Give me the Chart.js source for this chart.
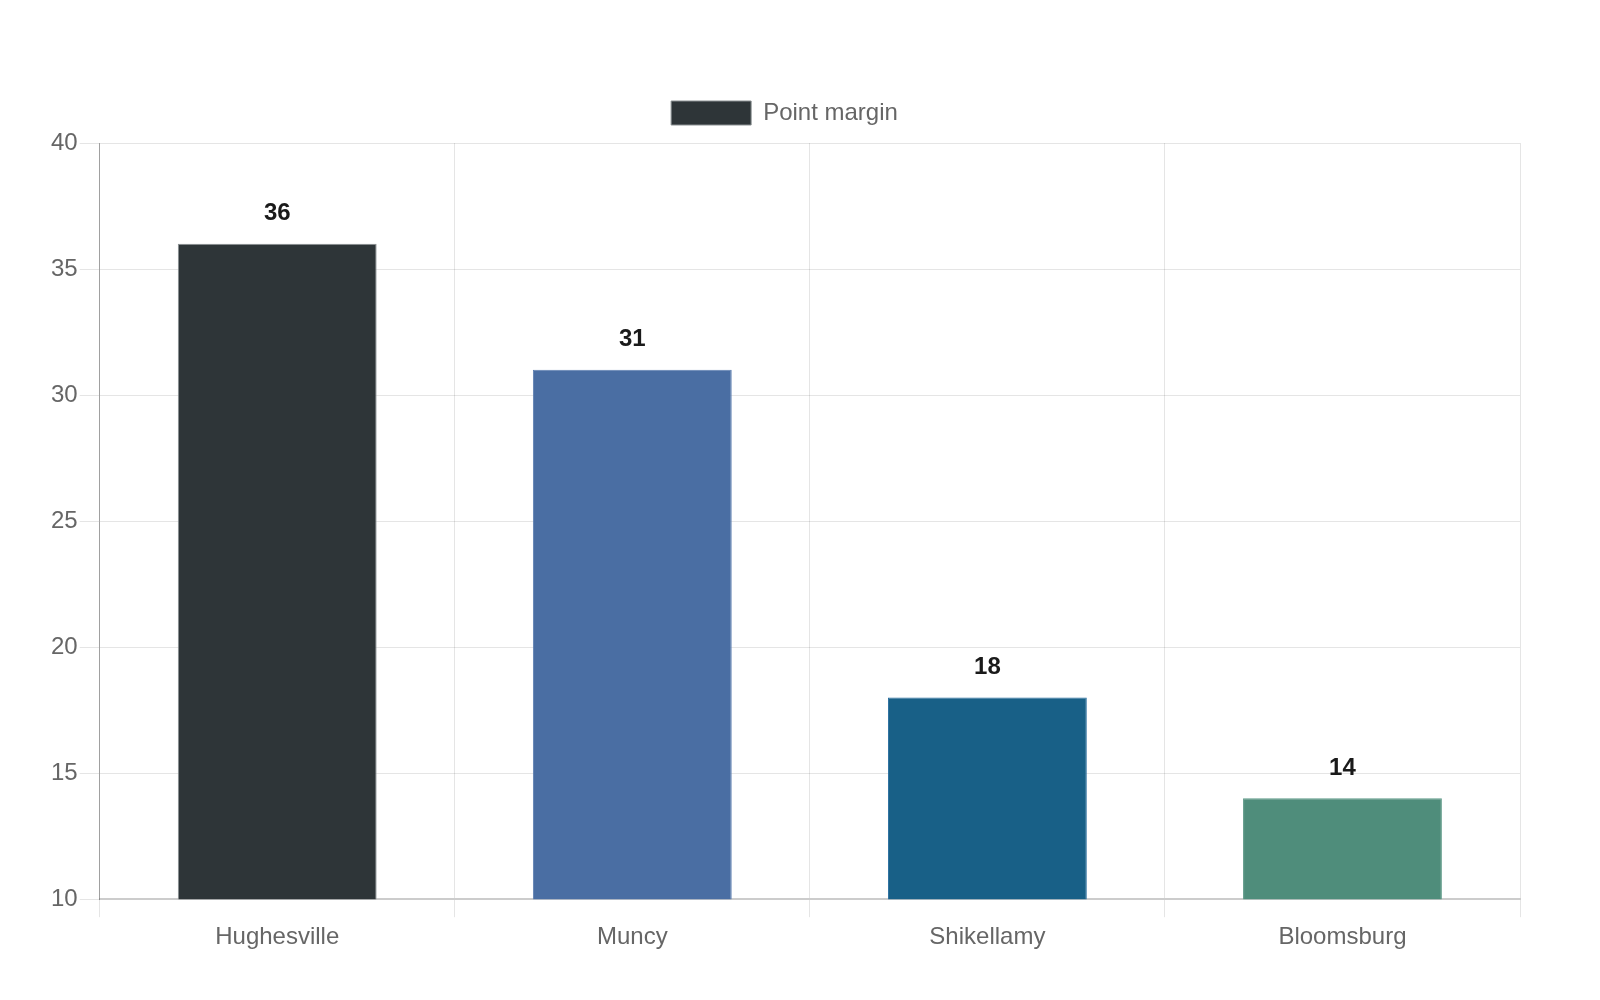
<!DOCTYPE html>
<html lang="en">
<head>
    <meta charset="UTF-8">
    <title>Point margin</title>
    <script src="https://cdn.jsdelivr.net/npm/chart.js"></script>
    <style>
        html, body { margin: 0; padding: 0; background: #fff; }
        #wrap { width: 1600px; height: 1000px; }
    </style>
</head>
<body>
    <div id="wrap"><canvas id="marginChart"></canvas></div>
    <script>
        const teams = ['Hughesville', 'Muncy', 'Shikellamy', 'Bloomsburg'];
        const margins = [36, 31, 18, 14];
        const barColors = ['#2e3538', '#4a6ea3', '#186087', '#4f8d7b'];
        const barBorders = ['#8a9092', '#5d7fb0', '#2a6fa0', '#5e9a88'];

        // draws the value above each bar (no datalabels plugin available)
        const valueLabels = {
            id: 'valueLabels',
            afterDatasetsDraw(chart) {
                const ctx = chart.ctx;
                ctx.save();
                ctx.font = 'bold 24px "Liberation Sans", Arial, sans-serif';
                ctx.fillStyle = '#1a1a1a';
                ctx.textAlign = 'center';
                ctx.textBaseline = 'middle';
                chart.getDatasetMeta(0).data.forEach((bar, i) => {
                    ctx.fillText(margins[i], bar.x, bar.y - 30);
                });
                ctx.restore();
            }
        };

        // a bit more room between legend and plot
        const legendGap = {
            id: 'legendGap',
            beforeInit(chart) {
                const fit = chart.legend.fit;
                chart.legend.fit = function () {
                    fit.call(this);
                    this.height += 8;
                };
            }
        };

        Chart.defaults.font.family = '"Liberation Sans", Arial, sans-serif';
        Chart.defaults.color = '#666';

        new Chart(document.getElementById('marginChart'), {
            type: 'bar',
            data: {
                labels: teams,
                datasets: [{
                    label: 'Point margin',
                    data: margins,
                    backgroundColor: barColors,
                    borderColor: barBorders,
                    borderWidth: 1,
                    categoryPercentage: 0.8,
                    barPercentage: 0.7
                }]
            },
            options: {
                responsive: true,
                maintainAspectRatio: false,
                animation: false,
                layout: { padding: { top: 91, left: 49, right: 80, bottom: 42 } },
                scales: {
                    x: {
                        grid: { color: 'rgba(0,0,0,0.1)', tickLength: 18, offset: true },
                        border: { color: '#ccc', width: 2 },
                        ticks: { font: { size: 24 }, padding: 6 }
                    },
                    y: {
                        min: 10,
                        max: 40,
                        ticks: { stepSize: 5, font: { size: 24 }, padding: 2 },
                        grid: { color: 'rgba(0,0,0,0.1)', tickLength: 20 },
                        border: { color: 'rgba(0,0,0,0.3)' }
                    }
                },
                plugins: {
                    legend: {
                        position: 'top',
                        labels: { font: { size: 24 }, boxWidth: 80, boxHeight: 24, padding: 10 }
                    },
                    tooltip: { enabled: false }
                }
            },
            plugins: [valueLabels, legendGap]
        });
    </script>
</body>
</html>
